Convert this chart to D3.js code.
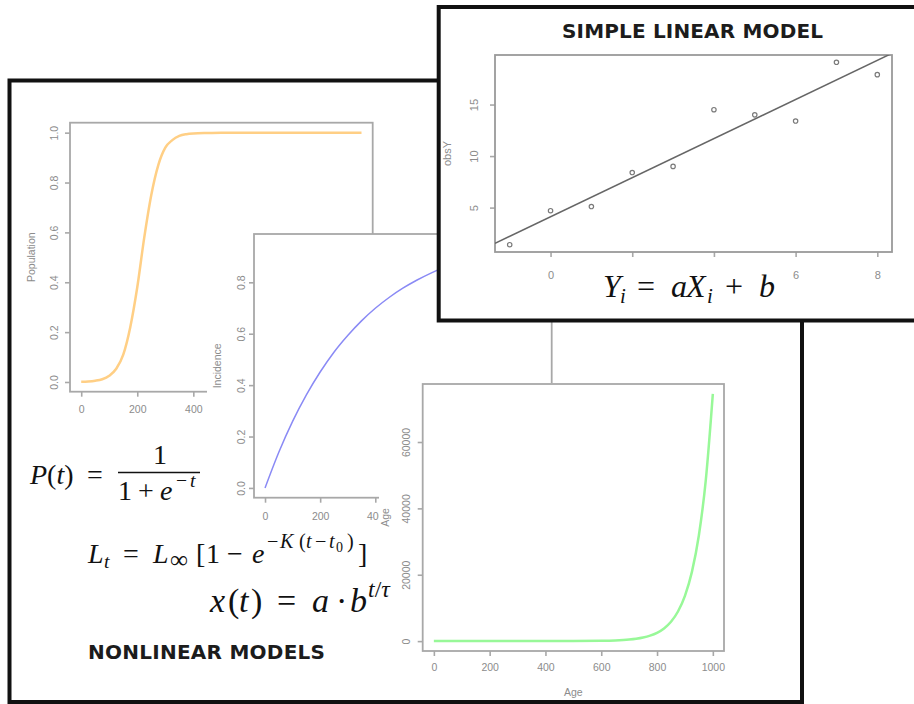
<!DOCTYPE html>
<html>
<head>
<meta charset="utf-8">
<script src="https://cdn.jsdelivr.net/npm/d3@7"></script>
<style>
  body { margin: 0; background: #fff; }
  .tick text { font-family: "Liberation Sans", Arial, sans-serif; fill: #8c8c8c; }
  .tick line { stroke: #a8a8a8; stroke-width: 1.6; }
  .lab { font-family: "Liberation Sans", Arial, sans-serif; fill: #8c8c8c; }
  .math { font-family: "Liberation Serif", "Times New Roman", serif; fill: #111; }
  .head { font-family: "DejaVu Sans", Verdana, sans-serif; font-weight: bold; fill: #1c1c1c; }
</style>
</head>
<body>
<svg id="chart" width="914" height="704"></svg>
<script>
// logistic curve (orange)
const popT = [0, 25, 50, 75, 100, 125, 150, 175, 200, 225, 250, 275, 300, 325, 350, 375, 400, 450, 500, 600, 700, 800, 900, 1000];
const popY = [0.001, 0.002, 0.005, 0.011, 0.025, 0.053, 0.11, 0.22, 0.38, 0.58, 0.75, 0.87, 0.94, 0.97, 0.987, 0.994, 0.997, 0.999, 1, 1, 1, 1, 1, 1];

// von Bertalanffy style curve (blue)
const incT = [0, 50, 100, 150, 200, 250, 300, 350, 400, 450, 500, 550, 600, 650, 700, 750, 800, 850, 900, 950, 1000];
const incY = [0, 0.139, 0.259, 0.362, 0.451, 0.528, 0.593, 0.650, 0.699, 0.741, 0.777, 0.808, 0.835, 0.858, 0.878, 0.895, 0.909, 0.922, 0.933, 0.942, 0.950];

// exponential curve (green)
const expT = [0, 100, 200, 300, 400, 500, 600, 650, 700, 725, 750, 775, 800, 825, 850, 875, 900, 925, 950, 975, 1000];
const expY = [0, 0, 0, 0, 3, 15, 85, 195, 460, 700, 1070, 1640, 2500, 3820, 5840, 8930, 13650, 20870, 31900, 48760, 74500];

// simple linear model points
const obsX = [-1, 0, 1, 2, 3, 4, 5, 6, 7, 8];
const obsY = [1.4, 4.7, 5.1, 8.4, 9.0, 14.5, 14.0, 13.4, 19.1, 17.9];

// tick labels
const ageTicks = [0, 200, 400, 600, 800, 1000];
const popTicks = [0, 0.2, 0.4, 0.6, 0.8, 1.0];
const incTicks = [0, 0.2, 0.4, 0.6, 0.8];
const expTicks = [0, 20000, 40000, 60000];
const linXTicks = [0, 2, 4, 6, 8];
const linYTicks = [5, 10, 15];

const svg = d3.select("#chart");

// R pads the data range by 4% on each side
const pad = e => [e[0] - (e[1] - e[0]) * 0.04, e[1] + (e[1] - e[0]) * 0.04];

function panel(cfg) {
    const g = svg.append("g");
    if (cfg.bg) {
        g.append("rect")
            .attr("x", cfg.bg[0]).attr("y", cfg.bg[1])
            .attr("width", cfg.bg[2]).attr("height", cfg.bg[3])
            .attr("fill", "#fff");
    }
    const [x0, y0, x1, y1] = cfg.box;
    const x = d3.scaleLinear().domain(pad(d3.extent(cfg.xs))).range([x0, x1]);
    const y = d3.scaleLinear().domain(pad(d3.extent(cfg.ys))).range([y1, y0]);

    const xAxis = g.append("g").attr("transform", `translate(0,${y1})`)
        .call(d3.axisBottom(x).tickValues(cfg.xTicks).tickSize(5).tickPadding(cfg.xPad)
            .tickFormat(cfg.xFmt || d3.format("d")));
    xAxis.select(".domain").remove();
    xAxis.selectAll("text").style("font-size", cfg.fs + "px");

    const yAxis = g.append("g").attr("transform", `translate(${x0},0)`)
        .call(d3.axisLeft(y).tickValues(cfg.yTicks).tickSize(5)
            .tickFormat(cfg.yFmt || d3.format("d")));
    yAxis.select(".domain").remove();
    yAxis.selectAll("text")
        .attr("x", null).attr("dy", null)
        .attr("text-anchor", "middle")
        .attr("transform", `translate(${-cfg.yPad},0) rotate(-90)`)
        .style("font-size", cfg.fs + "px");

    g.append("rect")
        .attr("x", x0).attr("y", y0)
        .attr("width", x1 - x0).attr("height", y1 - y0)
        .attr("fill", "none")
        .attr("stroke", cfg.boxColor || "#a8a8a8")
        .attr("stroke-width", 1.8);

    if (cfg.ylab) {
        g.append("text").attr("class", "lab")
            .attr("transform", `translate(${x0 - cfg.ylabOff},${(y0 + y1) / 2}) rotate(-90)`)
            .attr("text-anchor", "middle")
            .style("font-size", cfg.fs + "px")
            .text(cfg.ylab);
    }
    if (cfg.xlab) {
        g.append("text").attr("class", "lab")
            .attr("x", (x0 + x1) / 2).attr("y", y1 + cfg.xlabOff)
            .attr("text-anchor", "middle")
            .style("font-size", cfg.fs + "px")
            .text(cfg.xlab);
    }
    if (cfg.color) {
        g.append("path")
            .datum(d3.zip(cfg.xs, cfg.ys))
            .attr("fill", "none")
            .attr("stroke", cfg.color)
            .attr("stroke-width", cfg.lw)
            .attr("stroke-linejoin", "round")
            .attr("d", d3.line().x(d => x(d[0])).y(d => y(d[1])).curve(d3.curveMonotoneX));
    }
    return { g, x, y };
}

function formula(parts, size, base) {
    const t = svg.append("text").attr("class", "math").style("font-size", size + "px");
    parts.forEach(p => {
        const o = p[1] || {};
        const s = t.append("tspan").text(p[0]).attr("y", base + (o.dy || 0));
        if (o.x != null) s.attr("x", o.x);
        if (o.i) s.style("font-style", "italic");
        if (o.s) s.style("font-size", (size * o.s) + "px");
    });
    return t;
}

// outer frame for the nonlinear models
svg.append("rect")
    .attr("x", 9.5).attr("y", 80.5).attr("width", 792.5).attr("height", 621.5)
    .attr("fill", "#fff").attr("stroke", "#111").attr("stroke-width", 4);

// logistic growth
panel({
    box: [70, 122.7, 372.7, 391.7], xs: popT, ys: popY,
    xTicks: ageTicks, yTicks: popTicks, yFmt: d3.format(".1f"),
    xPad: 9, yPad: 12, fs: 10.5, ylab: "Population", ylabOff: 35,
    color: "#ffcf85", lw: 2.5
});

// incidence curve, pasted on top
panel({
    bg: [207, 234, 353, 293],
    box: [254, 234, 551.7, 497.7], xs: incT, ys: incY,
    xTicks: ageTicks, yTicks: incTicks, yFmt: d3.format(".1f"),
    xPad: 10, yPad: 9.5, fs: 10.5, ylab: "Incidence", ylabOff: 33,
    color: "#8a8af5", lw: 1.5
});

// exponential curve
panel({
    bg: [379, 383, 356, 316],
    box: [422.7, 384, 724, 651], xs: expT, ys: expY,
    xTicks: ageTicks, yTicks: expTicks,
    xPad: 8, yPad: 12.3, fs: 10.5, ylab: "Age", ylabOff: 34,
    xlab: "Age", xlabOff: 45,
    color: "#98f898", lw: 2.5
});

// P(t) = 1 / (1 + e^-t)
formula([["P", { x: 30, i: 1 }], ["("], ["t", { i: 1 }], [")"], ["=", { x: 87 }]], 28, 484);
formula([["1", { x: 153 }]], 28, 464);
svg.append("line").attr("x1", 118).attr("x2", 200).attr("y1", 472.5).attr("y2", 472.5)
    .attr("stroke", "#111").attr("stroke-width", 1.4);
formula([["1", { x: 118 }], ["+", { x: 138 }], ["e", { x: 160, i: 1 }],
    ["\u2212", { x: 176, dy: -13, s: 0.7 }], ["t", { x: 190, i: 1, dy: -13, s: 0.7 }]], 28, 500);

// L_t = L_inf [1 - e^{-K(t - t0)}]
formula([
    ["L", { x: 88, i: 1 }], ["t", { x: 104, i: 1, s: 0.7, dy: 5 }],
    ["=", { x: 123 }],
    ["L", { x: 153, i: 1 }], ["\u221e", { x: 170, s: 0.9, dy: 5 }],
    ["[", { x: 196 }], ["1", { x: 206 }], ["\u2212", { x: 227 }], ["e", { x: 252, i: 1 }],
    ["\u2212", { x: 267, s: 0.72, dy: -15 }], ["K", { x: 280, i: 1, s: 0.72, dy: -15 }],
    ["(", { x: 299, s: 0.72, dy: -15 }], ["t", { x: 306, i: 1, s: 0.72, dy: -15 }],
    ["\u2212", { x: 315, s: 0.72, dy: -15 }], ["t", { x: 329, i: 1, s: 0.72, dy: -15 }],
    ["0", { x: 336, s: 0.5, dy: -11 }], [")", { x: 347, s: 0.72, dy: -15 }],
    ["]", { x: 358 }]
], 28, 563);

// x(t) = a . b^{t/tau}
formula([
    ["x", { x: 210, i: 1 }], ["(", { x: 228 }], ["t", { x: 239, i: 1 }], [")", { x: 251 }],
    ["=", { x: 277 }], ["a", { x: 312, i: 1 }], ["\u00b7", { x: 336 }], ["b", { x: 350, i: 1 }],
    ["t", { x: 368, i: 1, s: 0.7, dy: -15 }], ["/", { s: 0.7, dy: -15 }], ["\u03c4", { i: 1, s: 0.7, dy: -15 }]
], 34, 612);

svg.append("text").attr("class", "head")
    .attr("x", 88).attr("y", 659).style("font-size", "20px")
    .attr("textLength", 237).attr("lengthAdjust", "spacing")
    .text("NONLINEAR MODELS");

// simple linear model box, on top of everything
svg.append("rect")
    .attr("x", 438.7).attr("y", 7).attr("width", 500).attr("height", 313.5)
    .attr("fill", "#fff").attr("stroke", "#111").attr("stroke-width", 4);

svg.append("text").attr("class", "head")
    .attr("x", 562).attr("y", 38).style("font-size", "20px")
    .attr("textLength", 261).attr("lengthAdjust", "spacing")
    .text("SIMPLE LINEAR MODEL");

const lin = panel({
    box: [495, 55, 892, 252], xs: obsX, ys: obsY,
    xTicks: linXTicks, yTicks: linYTicks,
    xPad: 14, yPad: 17, fs: 11, ylab: "obsY", ylabOff: 44,
    boxColor: "#9a9a9a"
});

// least squares fit, drawn across the plot region like abline()
const mx = d3.mean(obsX), my = d3.mean(obsY);
const slope = d3.sum(obsX, (v, i) => (v - mx) * (obsY[i] - my)) / d3.sum(obsX, v => (v - mx) ** 2);
const icpt = my - slope * mx;
const xd = lin.x.domain();

svg.append("clipPath").attr("id", "linclip")
    .append("rect").attr("x", 495).attr("y", 55).attr("width", 397).attr("height", 197);

lin.g.append("line")
    .attr("clip-path", "url(#linclip)")
    .attr("x1", lin.x(xd[0])).attr("y1", lin.y(icpt + slope * xd[0]))
    .attr("x2", lin.x(xd[1])).attr("y2", lin.y(icpt + slope * xd[1]))
    .attr("stroke", "#666").attr("stroke-width", 1.5);

lin.g.selectAll("circle")
    .data(d3.zip(obsX, obsY))
    .join("circle")
    .attr("cx", d => lin.x(d[0]))
    .attr("cy", d => lin.y(d[1]))
    .attr("r", 2.2)
    .attr("fill", "none")
    .attr("stroke", "#7a7a7a")
    .attr("stroke-width", 1.2);

// Y_i = aX_i + b, pasted over the x tick labels
svg.append("rect").attr("x", 598).attr("y", 263).attr("width", 182).attr("height", 42).attr("fill", "#fff");
formula([
    ["Y", { x: 603, i: 1 }], ["i", { x: 620, i: 1, s: 0.65, dy: 6 }],
    ["=", { x: 637 }], ["a", { x: 671, i: 1 }], ["X", { x: 686, i: 1 }],
    ["i", { x: 707, i: 1, s: 0.65, dy: 6 }], ["+", { x: 725 }], ["b", { x: 759, i: 1 }]
], 32, 297);
</script>
</body>
</html>
